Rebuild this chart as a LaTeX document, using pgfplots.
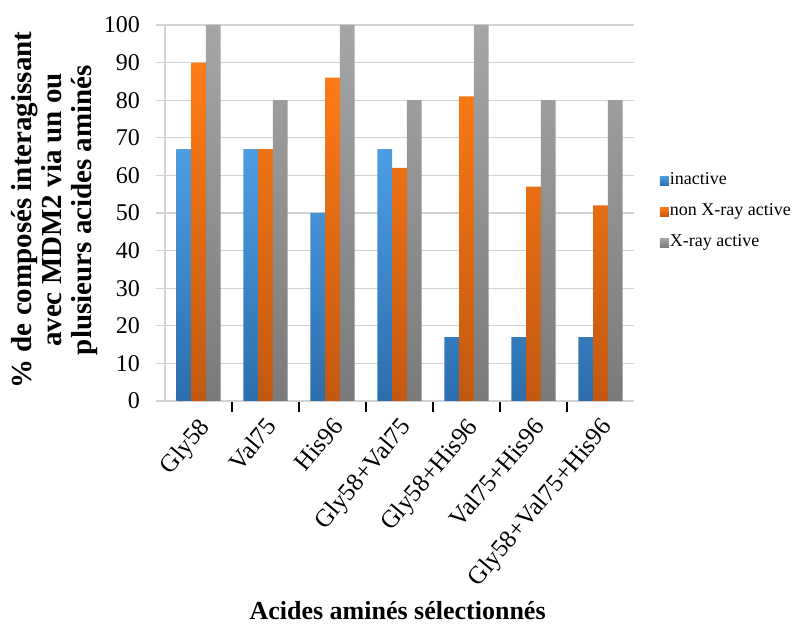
\documentclass[border=0pt]{standalone}
\usepackage{fontspec}
\setmainfont{Liberation Serif}
\usepackage{pgfplots}
\pgfplotsset{compat=1.18}
\definecolor{bluetop}{RGB}{78,158,228}
\definecolor{bluebot}{RGB}{44,110,172}
\definecolor{orangetop}{RGB}{255,124,22}
\definecolor{orangebot}{RGB}{194,88,16}
\definecolor{graytop}{RGB}{166,166,166}
\definecolor{graybot}{RGB}{122,122,122}
\definecolor{gridgray}{RGB}{210,210,210}
\pgfplotstableread{
x inactive nonxray xray
0 67 90 100
1 67 67 80
2 50 86 100
3 67 62 80
4 17 81 100
5 17 57 80
6 17 52 80
}\datatable
\begin{document}
\begin{tikzpicture}
\path[use as bounding box] (0pt,0pt) rectangle (796pt,624pt);
\begin{axis}[
  at={(165pt,223pt)}, anchor=south west,
  scale only axis, width=469pt, height=376pt,
  xmin=-0.5, xmax=6.5, ymin=0, ymax=100,
  ybar=0pt, bar width=0.219,
  axis x line*=bottom, axis y line*=left,
  axis line style={-, draw=gridgray, line width=1.2pt},
  xtick={0,...,6},
  xticklabels={Gly58,Val75,His96,Gly58+Val75,Gly58+His96,Val75+His96,Gly58+Val75+His96},
  minor xtick={0.5,1.5,...,5.5},
  major x tick style={draw=none},
  minor x tick style={black, line width=1.4pt},
  minor tick length=11pt,
  ytick={0,10,...,100},
  major y tick style={draw=gridgray, line width=1.2pt},
  major tick length=9pt,
  tick align=outside,
  xtick pos=bottom, ytick pos=left,
  ymajorgrids, major grid style={draw=gridgray, line width=1.2pt},
  /pgf/number format/assume math mode=true,
  yticklabel style={font=\fontsize{24}{26}\selectfont, anchor=east, inner sep=0pt},
  xticklabel style={font=\fontsize{25}{27}\selectfont, xshift=-1pt, yshift=2pt, rotate=50, anchor=north east, inner sep=0pt},
  xticklabel shift=8pt, yticklabel shift=16pt,
  xlabel={Acides aminés sélectionnés},
  ylabel={\% de composés interagissant\\avec MDM2 via un ou\\plusieurs acides aminés},
  every axis x label/.style={at={(axis description cs:0.496,-0.580)}, anchor=base,
     font=\bfseries\fontsize{26}{28}\selectfont},
  every axis y label/.style={at={(axis description cs:-0.236,0.508)}, rotate=90, anchor=center,
     align=center, font=\bfseries\fontsize{29}{30}\selectfont},
  legend style={at={(1.055,0.503)}, anchor=west, draw=none, fill=none, inner sep=0pt,
     font=\fontsize{18}{20}\selectfont,
     nodes={inner sep=1pt, text height=12pt, text depth=4pt}, row sep=13pt},
  legend cell align=left,
  legend image code/.code={\fill[#1] (0pt,-4.5pt) rectangle (9pt,4.5pt);},
]
\addplot[draw=none, shading=axis, top color=bluetop, bottom color=bluebot] table[x=x,y=inactive]{\datatable};
\addplot[draw=none, shading=axis, top color=orangetop, bottom color=orangebot] table[x=x,y=nonxray]{\datatable};
\addplot[draw=none, shading=axis, top color=graytop, bottom color=graybot] table[x=x,y=xray]{\datatable};
\legend{inactive, non X-ray active, X-ray active}
\end{axis}
\end{tikzpicture}
\end{document}
